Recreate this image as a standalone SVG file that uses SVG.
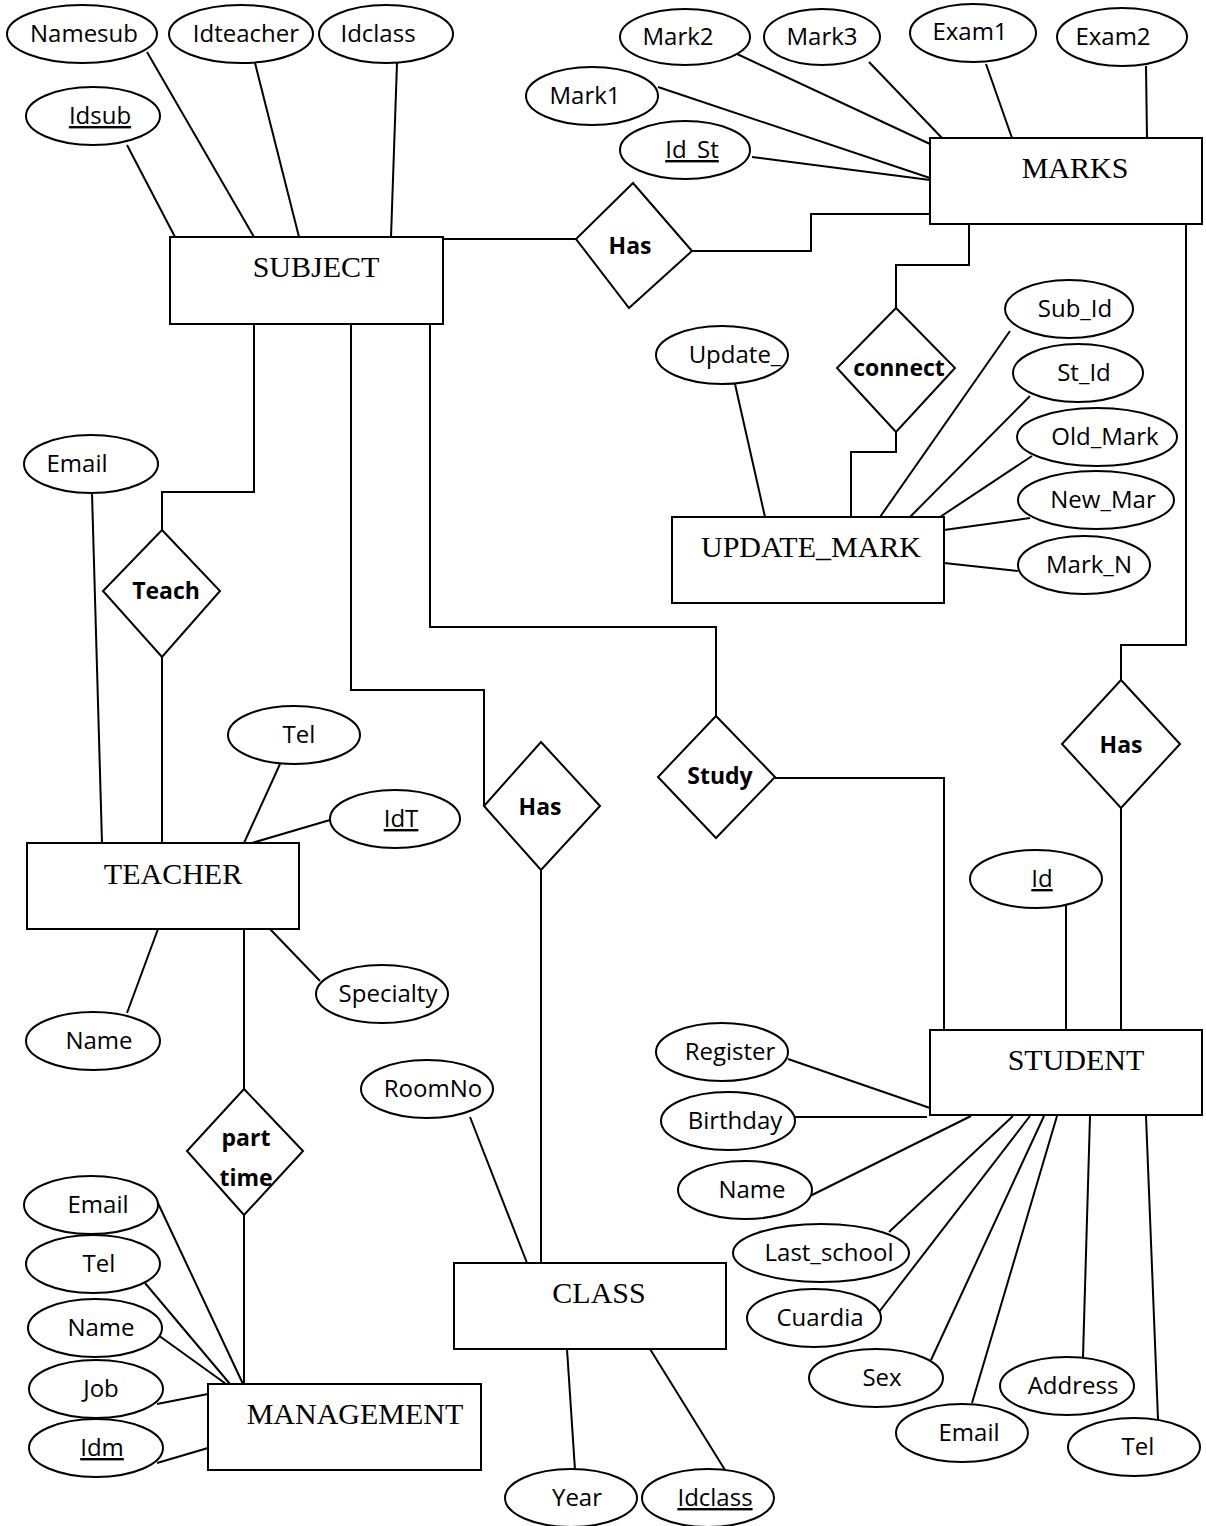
<svg xmlns="http://www.w3.org/2000/svg" width="1206" height="1526" viewBox="0 0 1206 1526">
<style>
.ent rect{fill:#fff;stroke:#000;stroke-width:2}
.ent text{font-family:"Liberation Serif",serif;font-size:30px;text-anchor:middle;fill:#000}
.att ellipse{fill:#fff;stroke:#000;stroke-width:2}
.att text{font-family:"Open Sans","Liberation Sans",sans-serif;font-size:24px;text-anchor:middle;fill:#000}
.rel polygon{fill:#fff;stroke:#000;stroke-width:2}
.rel text{font-family:"Open Sans","Liberation Sans",sans-serif;font-size:23px;font-weight:bold;text-anchor:middle;fill:#000}
.u{text-decoration:underline}
#connectors line,#connectors polyline{fill:none;stroke:#000;stroke-width:2}
</style>
<rect width="1206" height="1526" fill="#fff"/>
<g id="connectors">
<!-- SUBJECT attributes -->
<line x1="127" y1="145" x2="175" y2="237"/>
<line x1="147" y1="52" x2="254" y2="237"/>
<line x1="255" y1="63" x2="299" y2="237"/>
<line x1="397" y1="63" x2="391" y2="237"/>
<!-- MARKS attributes -->
<line x1="735" y1="53" x2="930" y2="144"/>
<line x1="869" y1="62" x2="942" y2="138"/>
<line x1="986" y1="64" x2="1012" y2="138"/>
<line x1="1146" y1="66" x2="1147" y2="138"/>
<line x1="658" y1="87" x2="930" y2="178"/>
<line x1="752" y1="157" x2="930" y2="180"/>
<!-- SUBJECT - Has - MARKS -->
<polyline points="443,239 576,239"/>
<polyline points="692,251 811,251 811,214 930,214"/>
<!-- MARKS - connect - UPDATE_MARK -->
<polyline points="969,224 969,265 896,265 896,308"/>
<polyline points="896,432 896,452 851,452 851,517"/>
<!-- UPDATE_MARK attributes -->
<line x1="735" y1="384" x2="765" y2="517"/>
<line x1="1010" y1="331" x2="880" y2="517"/>
<line x1="1030" y1="396" x2="910" y2="517"/>
<line x1="1032" y1="456" x2="940" y2="517"/>
<line x1="1030" y1="518" x2="944" y2="530"/>
<line x1="944" y1="563" x2="1018" y2="571"/>
<!-- MARKS - Has - STUDENT -->
<polyline points="1186,224 1186,645 1121,645 1121,680"/>
<polyline points="1121,808 1121,1030"/>
<!-- SUBJECT - Teach - TEACHER -->
<polyline points="254,324 254,492 162,492 162,530"/>
<polyline points="162,657 162,843"/>
<!-- SUBJECT - Has - CLASS -->
<polyline points="351,324 351,690 484,690 484,806"/>
<polyline points="541,870 541,1263"/>
<!-- SUBJECT - Study - STUDENT -->
<polyline points="430,324 430,627 716,627 716,716"/>
<polyline points="775,778 944,778 944,1030"/>
<!-- TEACHER attributes -->
<line x1="92" y1="493" x2="102" y2="843"/>
<line x1="280" y1="764" x2="244" y2="843"/>
<line x1="330" y1="820" x2="252" y2="843"/>
<line x1="158" y1="929" x2="127" y2="1013"/>
<line x1="270" y1="929" x2="320" y2="981"/>
<!-- TEACHER - part time - MANAGEMENT -->
<polyline points="244,929 244,1089"/>
<polyline points="244,1215 244,1384"/>
<!-- MANAGEMENT attributes -->
<line x1="157" y1="1201" x2="243" y2="1384"/>
<line x1="145" y1="1283" x2="230" y2="1384"/>
<line x1="158" y1="1335" x2="226" y2="1384"/>
<line x1="157" y1="1404" x2="208" y2="1394"/>
<line x1="157" y1="1463" x2="208" y2="1448"/>
<!-- CLASS attributes -->
<line x1="470" y1="1117" x2="527" y2="1263"/>
<line x1="567" y1="1349" x2="575" y2="1470"/>
<line x1="650" y1="1349" x2="725" y2="1470"/>
<!-- STUDENT attributes -->
<line x1="1066" y1="905" x2="1066" y2="1030"/>
<line x1="788" y1="1059" x2="930" y2="1108"/>
<line x1="795" y1="1117" x2="927" y2="1117"/>
<line x1="806" y1="1198" x2="971" y2="1116"/>
<line x1="889" y1="1232" x2="1013" y2="1116"/>
<line x1="879" y1="1312" x2="1030" y2="1116"/>
<line x1="931" y1="1360" x2="1044" y2="1116"/>
<line x1="972" y1="1403" x2="1057" y2="1116"/>
<line x1="1083" y1="1357" x2="1090" y2="1116"/>
<line x1="1158" y1="1419" x2="1146" y2="1116"/>
</g>

<!-- Entities -->
<g id="subject" class="ent"><rect x="170" y="237" width="273" height="87"/><text x="316" y="277">SUBJECT</text></g>
<g id="marks" class="ent"><rect x="930" y="138" width="272" height="86"/><text x="1075" y="178">MARKS</text></g>
<g id="update_mark" class="ent"><rect x="672" y="517" width="272" height="86"/><text x="811" y="557">UPDATE_MARK</text></g>
<g id="teacher" class="ent"><rect x="27" y="843" width="272" height="86"/><text x="173" y="884">TEACHER</text></g>
<g id="student" class="ent"><rect x="930" y="1030" width="272" height="85"/><text x="1076" y="1070">STUDENT</text></g>
<g id="class" class="ent"><rect x="454" y="1263" width="272" height="86"/><text x="599" y="1303">CLASS</text></g>
<g id="management" class="ent"><rect x="208" y="1384" width="273" height="86"/><text x="355" y="1424">MANAGEMENT</text></g>

<!-- Relationships -->
<g id="rel_has_marks" class="rel"><polygon points="633,183 692,251 629,308 576,239"/><text x="630" y="254">Has</text></g>
<g id="rel_connect" class="rel"><polygon points="896,308 955,368 896,432 837,368"/><text x="899" y="376">connect</text></g>
<g id="rel_has_student" class="rel"><polygon points="1121,680 1180,744 1121,808 1062,744"/><text x="1121" y="753">Has</text></g>
<g id="rel_teach" class="rel"><polygon points="162,530 220,591 162,657 103,591"/><text x="166" y="599">Teach</text></g>
<g id="rel_has_class" class="rel"><polygon points="541,742 600,806 541,870 484,806"/><text x="540" y="815">Has</text></g>
<g id="rel_study" class="rel"><polygon points="716,716 775,777 716,838 658,777"/><text x="720" y="784">Study</text></g>
<g id="rel_parttime" class="rel"><polygon points="244,1089 303,1151 244,1215 187,1151"/><text x="246" y="1146">part</text><text x="246" y="1186">time</text></g>

<!-- Attributes -->
<g id="a_namesub" class="att"><ellipse cx="82" cy="34" rx="75" ry="29"/><text x="84" y="42">Namesub</text></g>
<g id="a_idteacher" class="att"><ellipse cx="241" cy="34" rx="72" ry="29"/><text x="246" y="42">Idteacher</text></g>
<g id="a_idclass_sub" class="att"><ellipse cx="386" cy="34" rx="67" ry="29"/><text x="378" y="42">Idclass</text></g>
<g id="a_idsub" class="att"><ellipse cx="93" cy="116" rx="67" ry="29"/><text x="100" y="124" class="u">Idsub</text></g>
<g id="a_mark2" class="att"><ellipse cx="685" cy="37" rx="65" ry="28"/><text x="678" y="45">Mark2</text></g>
<g id="a_mark3" class="att"><ellipse cx="822" cy="37" rx="58" ry="28"/><text x="822" y="45">Mark3</text></g>
<g id="a_exam1" class="att"><ellipse cx="973" cy="33" rx="63" ry="29"/><text x="970" y="40">Exam1</text></g>
<g id="a_exam2" class="att"><ellipse cx="1122" cy="37" rx="65" ry="29"/><text x="1113" y="45">Exam2</text></g>
<g id="a_mark1" class="att"><ellipse cx="592" cy="96" rx="66" ry="29"/><text x="585" y="104">Mark1</text></g>
<g id="a_idst" class="att"><ellipse cx="685" cy="150" rx="65" ry="29"/><text x="692" y="158" class="u">Id_St</text></g>
<g id="a_update" class="att"><ellipse cx="722" cy="355" rx="66" ry="29"/><text x="735" y="363">Update_</text></g>
<g id="a_subid" class="att"><ellipse cx="1069" cy="309" rx="64" ry="29"/><text x="1075" y="317">Sub_Id</text></g>
<g id="a_stid" class="att"><ellipse cx="1078" cy="373" rx="65" ry="29"/><text x="1084" y="381">St_Id</text></g>
<g id="a_oldmark" class="att"><ellipse cx="1097" cy="437" rx="80" ry="29"/><text x="1105" y="445">Old_Mark</text></g>
<g id="a_newmar" class="att"><ellipse cx="1096" cy="500" rx="78" ry="29"/><text x="1103" y="508">New_Mar</text></g>
<g id="a_markn" class="att"><ellipse cx="1084" cy="565" rx="66" ry="29"/><text x="1089" y="573">Mark_N</text></g>
<g id="a_email_t" class="att"><ellipse cx="91" cy="464" rx="67" ry="29"/><text x="77" y="472">Email</text></g>
<g id="a_tel_t" class="att"><ellipse cx="294" cy="735" rx="66" ry="29"/><text x="299" y="743">Tel</text></g>
<g id="a_idt" class="att"><ellipse cx="395" cy="819" rx="65" ry="29"/><text x="401" y="827" class="u">IdT</text></g>
<g id="a_name_t" class="att"><ellipse cx="93" cy="1041" rx="67" ry="29"/><text x="99" y="1049">Name</text></g>
<g id="a_specialty" class="att"><ellipse cx="382" cy="994" rx="66" ry="29"/><text x="388" y="1002">Specialty</text></g>
<g id="a_roomno" class="att"><ellipse cx="427" cy="1089" rx="66" ry="29"/><text x="433" y="1097">RoomNo</text></g>
<g id="a_year" class="att"><ellipse cx="571" cy="1498" rx="66" ry="29"/><text x="577" y="1506">Year</text></g>
<g id="a_idclass_c" class="att"><ellipse cx="708" cy="1498" rx="66" ry="29"/><text x="715" y="1506" class="u">Idclass</text></g>
<g id="a_email_m" class="att"><ellipse cx="91" cy="1205" rx="67" ry="29"/><text x="98" y="1213">Email</text></g>
<g id="a_tel_m" class="att"><ellipse cx="93" cy="1264" rx="67" ry="29"/><text x="99" y="1272">Tel</text></g>
<g id="a_name_m" class="att"><ellipse cx="95" cy="1328" rx="67" ry="29"/><text x="101" y="1336">Name</text></g>
<g id="a_job" class="att"><ellipse cx="96" cy="1389" rx="67" ry="29"/><text x="101" y="1397">Job</text></g>
<g id="a_idm" class="att"><ellipse cx="96" cy="1448" rx="67" ry="29"/><text x="102" y="1456" class="u">Idm</text></g>
<g id="a_id_s" class="att"><ellipse cx="1036" cy="879" rx="66" ry="29"/><text x="1042" y="887" class="u">Id</text></g>
<g id="a_register" class="att"><ellipse cx="722" cy="1052" rx="66" ry="29"/><text x="730" y="1060">Register</text></g>
<g id="a_birthday" class="att"><ellipse cx="728" cy="1121" rx="67" ry="29"/><text x="735" y="1129">Birthday</text></g>
<g id="a_name_s" class="att"><ellipse cx="745" cy="1190" rx="67" ry="29"/><text x="752" y="1198">Name</text></g>
<g id="a_lastschool" class="att"><ellipse cx="821" cy="1253" rx="88" ry="29"/><text x="829" y="1261">Last_school</text></g>
<g id="a_cuardia" class="att"><ellipse cx="814" cy="1318" rx="67" ry="29"/><text x="820" y="1326">Cuardia</text></g>
<g id="a_sex" class="att"><ellipse cx="876" cy="1378" rx="67" ry="29"/><text x="882" y="1386">Sex</text></g>
<g id="a_email_s" class="att"><ellipse cx="962" cy="1433" rx="66" ry="29"/><text x="969" y="1441">Email</text></g>
<g id="a_address" class="att"><ellipse cx="1067" cy="1386" rx="67" ry="29"/><text x="1073" y="1394">Address</text></g>
<g id="a_tel_s" class="att"><ellipse cx="1134" cy="1447" rx="66" ry="29"/><text x="1138" y="1455">Tel</text></g>
</svg>
